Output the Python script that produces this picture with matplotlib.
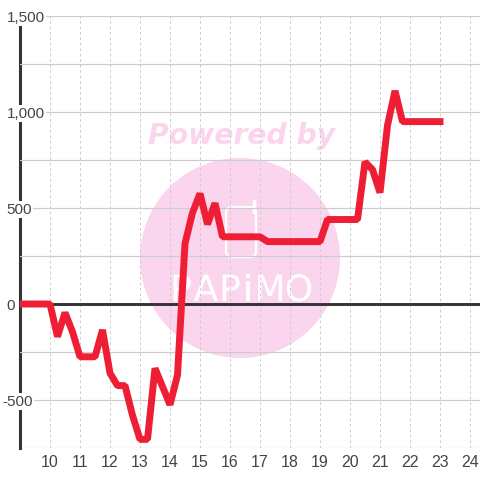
# coding: UTF-8
import matplotlib
matplotlib.use("Agg")
import matplotlib.pyplot as plt
import matplotlib.patheffects as pe
from matplotlib.patches import Circle, FancyBboxPatch

# hours, in quarter steps
hours = [9, 10, 10.25, 10.5, 10.75, 11, 11.25, 11.5, 11.75, 12, 12.25, 12.5, 12.75, 13,
         13.25, 13.5, 13.75, 14, 14.25, 14.5, 14.75, 15, 15.25, 15.5, 15.75, 16, 16.5, 17,
         17.25, 17.5, 18, 18.5, 19, 19.25, 19.5, 20, 20.25, 20.5, 20.75, 21, 21.25, 21.5,
         21.75, 22, 22.5, 23]
values = [0, 0, -170, -45, -145, -275, -275, -275, -135, -360, -425, -425, -580, -705,
          -705, -335, -430, -525, -370, 315, 475, 575, 415, 525, 350, 350, 350, 350,
          325, 325, 325, 325, 325, 440, 440, 440, 440, 740, 700, 580, 930, 1110,
          950, 950, 950, 950]
x_ticks = list(range(10, 25))
y_major = [-500, 0, 500, 1000, 1500]
y_labels = ["-500", "0", "500", "1,000", "1,500"]
y_grid = [-750, -500, -250, 0, 250, 500, 750, 1000, 1250, 1500]
logo_letters = ["P", "A", "P", "i", "M", "O"]
logo_x = [181, 206, 230, 248, 270, 299]

plt.rcParams["font.family"] = ["Liberation Sans", "DejaVu Sans"]
W = 480
fig = plt.figure(figsize=(4.8, 4.8), dpi=100, facecolor="white")
ax = fig.add_axes([20 / W, 1 - 448 / W, 460 / W, 432 / W])
ax.patch.set_alpha(0)
ax.set_xlim(9, 9 + 460 / 30)
ax.set_ylim(-750, 1500)

# watermark, sits behind the axes
pink = "#fbd5ee"
def px(x, y):
    return x / W, 1 - y / W
fig.add_artist(Circle(px(240, 258), 100 / W, transform=fig.transFigure, fc=pink, ec="none", zorder=-2))
fig.text(*px(241.5, 135.5), "Powered by", color=pink, fontsize=20.3, family="DejaVu Sans",
         weight="bold", style="italic", ha="center", va="center", zorder=-2)
fig.add_artist(FancyBboxPatch(px(226, 257), 30 / W, 50 / W, boxstyle="round,pad=0,rounding_size=0.012",
                              transform=fig.transFigure, fc="none", ec="white", lw=1.6, zorder=-1))
fig.add_artist(plt.Line2D([254.5 / W, 254.5 / W], [1 - 212 / W, 1 - 201 / W], color="white", lw=2.4, zorder=-1))
for letter, lx in zip(logo_letters, logo_x):
    fig.text(*px(lx, 291), letter, color="white", fontsize=26, family="Liberation Sans Narrow",
             ha="center", va="center", zorder=-1,
             path_effects=[pe.withStroke(linewidth=0.8, foreground=pink)])

ax.set_xticks(x_ticks)
ax.set_yticks(y_major)
ax.set_yticklabels(y_labels)
ax.set_yticks(y_grid, minor=True)
ax.set_axisbelow(True)
ax.grid(axis="x", color="#cccccc", lw=0.7, ls=(0, (2.8, 2.8)))
ax.grid(axis="y", which="both", color="#cccccc", lw=0.85)
ax.tick_params(axis="both", which="both", length=0)
ax.tick_params(axis="x", labelsize=11.5, labelcolor="#444444", pad=5)
ax.tick_params(axis="y", labelsize=11, labelcolor="#444444", pad=9.8)
for lab, txt in zip(ax.get_yticklabels(), y_labels):
    lab.set_ha("left")
    lab.set_bbox(dict(fc="white", ec="none", pad=1))
    if txt == "-500":
        lab.set_x(-4 / 460)

for side in ["top", "right", "bottom"]:
    ax.spines[side].set_visible(False)
ax.spines["left"].set_linewidth(2.2)
ax.spines["left"].set_color("#333333")
ax.spines["left"].set_zorder(0.4)
ax.axhline(0, color="#333333", lw=2.1, zorder=1.5)

ax.plot(hours, values, color="#ee1f35", lw=5, solid_capstyle="projecting",
        solid_joinstyle="bevel", zorder=3)

fig.savefig("out.png", dpi=100)
